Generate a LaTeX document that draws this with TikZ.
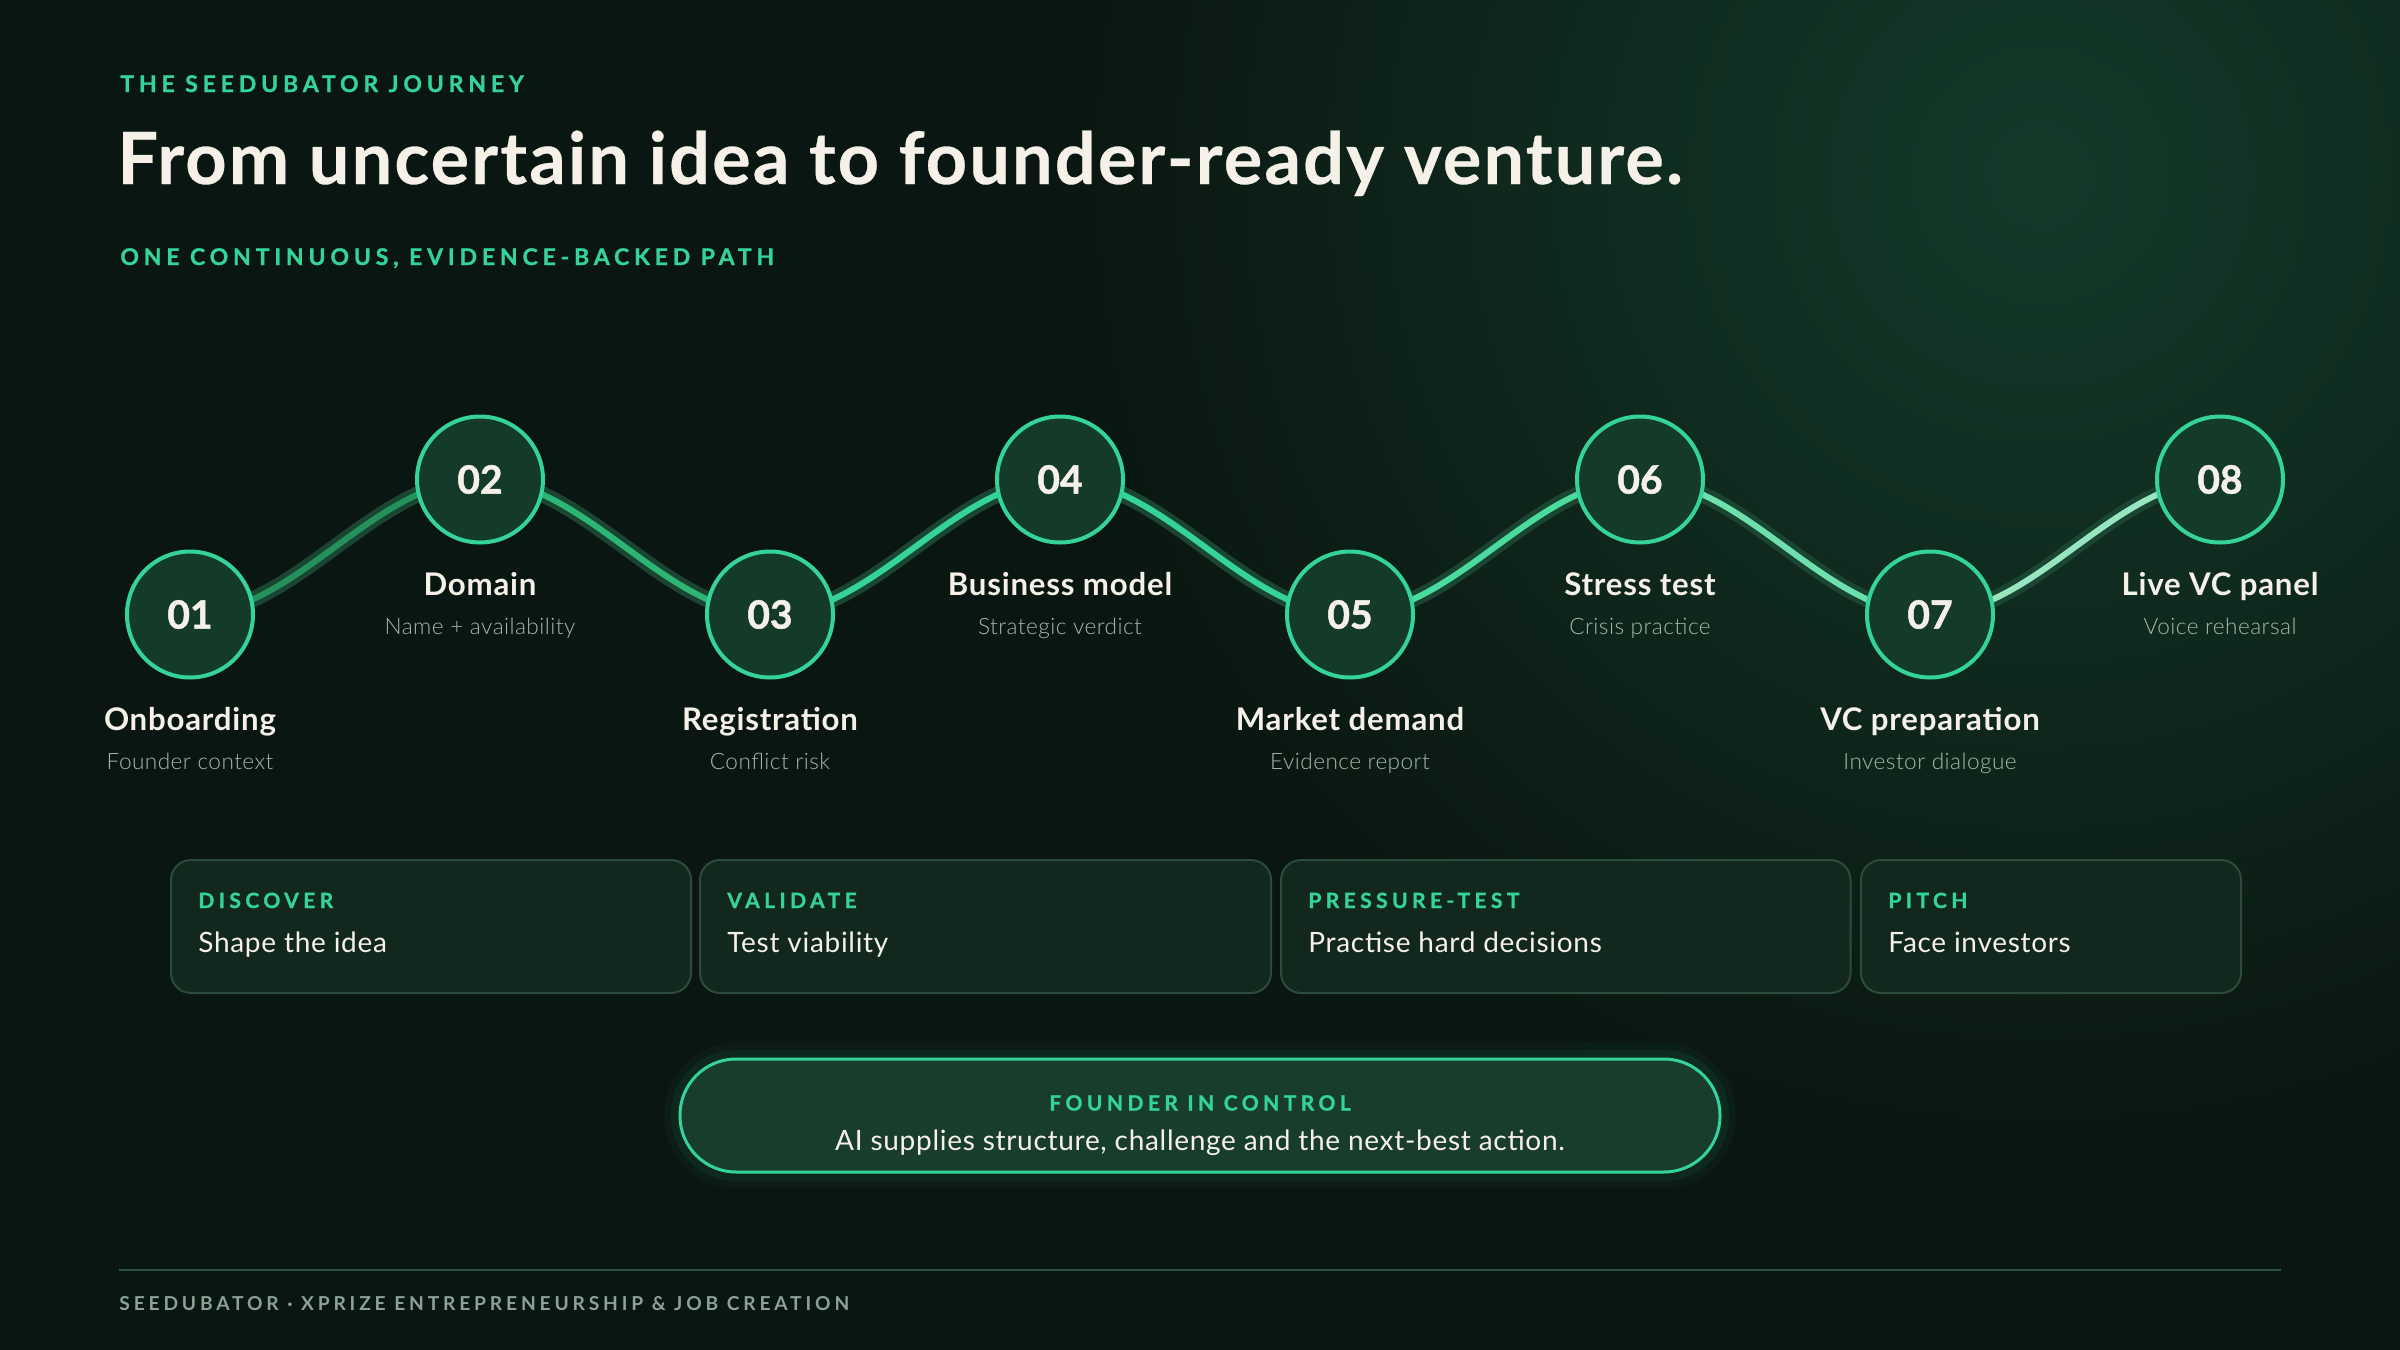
\documentclass[tikz,border=0pt]{standalone}
\usepackage{fontspec}
\usetikzlibrary{positioning,backgrounds}
\setmainfont{Lato}[LetterSpace=2.5]
\newfontfamily\heavybase{Lato}[FakeBold=1.3]
\newcommand\heavyfont{\heavybase\bfseries}
\newfontfamily\capsbase{Lato}[LetterSpace=21,FakeBold=1.1]
\newcommand\capsfont{\capsbase\bfseries}
\IfFontExistsTF{Lato Light}{\newfontfamily\lightfont{Lato Light}[LetterSpace=2]}{\newcommand\lightfont{}}
\newfontfamily\titlefont{Lato}[LetterSpace=3,FakeBold=0.4]
\newfontfamily\footfont{Lato}[LetterSpace=20]

\definecolor{bgdark}{HTML}{0A1611}
\definecolor{glow}{HTML}{143A2A}
\definecolor{mint}{HTML}{34D399}
\definecolor{cream}{HTML}{F5F1E8}
\definecolor{dotfill}{HTML}{143A29}
\definecolor{halo}{HTML}{1A4532}
\definecolor{muted}{HTML}{A3B8AC}
\definecolor{cardfill}{HTML}{12271E}
\definecolor{cardline}{HTML}{2C4B3C}
\definecolor{pillfill}{HTML}{183D2D}
\definecolor{footline}{HTML}{2E5242}
\definecolor{foottext}{HTML}{8AA396}
\definecolor{wa}{HTML}{24915D}
\definecolor{wb}{HTML}{2DB574}
\definecolor{wc}{HTML}{34D399}
\definecolor{wd}{HTML}{34D399}
\definecolor{we}{HTML}{4ADB9E}
\definecolor{wf}{HTML}{6EE0AE}
\definecolor{wg}{HTML}{97E6C0}

\tikzset{
  eyebrow/.style={text=mint, inner sep=0pt, anchor=base west, font=\capsfont\fontsize{11.5}{13}\selectfont},
  headline/.style={text=cream, inner sep=0pt, anchor=base west, font=\titlefont\bfseries\fontsize{36}{40}\selectfont},
  stepdot/.style={circle, draw=mint, line width=2pt, fill=dotfill, minimum size=63pt, inner sep=0pt,
    text=cream, font=\heavyfont\fontsize{19.5}{19.5}\selectfont},
  steptitle/.style={text=cream, inner sep=0pt, anchor=base, font=\bfseries\fontsize{15.6}{17}\selectfont},
  stepnote/.style={text=muted, inner sep=0pt, anchor=base, font=\lightfont\fontsize{11.3}{13}\selectfont},
  wave/.style={line width=3pt, line cap=round, preaction={draw=halo, line width=8pt}},
  card/.style={draw=cardline, line width=1pt, fill=cardfill, rounded corners=10pt, anchor=north west,
    minimum height=66.5pt, inner sep=0pt},
  cardtag/.style={text=mint, inner sep=0pt, anchor=base west, font=\capsfont\fontsize{10.5}{12}\selectfont},
  cardtext/.style={text=cream, inner sep=0pt, anchor=base west, font=\fontsize{14}{16}\selectfont},
  pill/.style={draw=mint, line width=1.5pt, fill=pillfill, rounded corners=28pt,
    minimum width=520pt, minimum height=56.5pt, inner sep=0pt,
    preaction={draw=mint, draw opacity=0.04, line width=16pt},
    preaction={draw=mint, draw opacity=0.07, line width=9pt}},
  foot/.style={text=foottext, inner sep=0pt, anchor=base west, font=\footfont\bfseries\fontsize{9.6}{11}\selectfont},
}

\begin{document}
\begin{tikzpicture}[x=0.5pt,y=-0.5pt]
  \useasboundingbox (0,0) rectangle (2400,1350);

  \begin{pgfonlayer}{background}
    \fill[bgdark] (0,0) rectangle (2400,1350);
    \begin{scope}
      \clip (0,0) rectangle (2400,1350);
      \shade[inner color=glow, outer color=bgdark] (2040,175) circle (1000);
    \end{scope}
  \end{pgfonlayer}

  % heading
  \node[eyebrow] (kicker) at (120,92) {THE SEEDUBATOR JOURNEY};
  \node[headline] (title) at (117,184) {From uncertain idea to founder-ready venture.};
  \node[eyebrow] (path) at (120,265) {ONE CONTINUOUS, EVIDENCE-BACKED PATH};

  % steps
  \foreach \i/\x/\y in {1/190/614.5,2/480/479.5,3/770/614.5,4/1060/479.5,
                        5/1350/614.5,6/1640/479.5,7/1930/614.5,8/2220/479.5}{
    \node[stepdot] (s\i) at (\x,\y) {0\i};
  }
  \foreach \i/\t/\d in {1/Onboarding/Founder context,2/Domain/Name + availability,
                        3/Registration/Conflict risk,4/Business model/Strategic verdict,
                        5/Market demand/Evidence report,6/Stress test/Crisis practice,
                        7/VC preparation/Investor dialogue,8/Live VC panel/Voice rehearsal}{
    \node[steptitle] (t\i) at ([yshift=-58pt]s\i.center) {\t};
    \node[stepnote] (n\i) at ([yshift=-77.5pt]s\i.center) {\d};
  }

  % path between the steps
  \begin{pgfonlayer}{background}
    \foreach \a/\b/\c in {1/2/wa,2/3/wb,3/4/wc,4/5/wd,5/6/we,6/7/wf,7/8/wg}{
      \draw[wave, draw=\c] (s\a.center) .. controls +(105,0) and +(-105,0) .. (s\b.center);
    }
  \end{pgfonlayer}

  % phases
  \foreach \i/\x/\w/\k/\t in {1/170/260pt/DISCOVER/Shape the idea,
                              2/699/285.5pt/VALIDATE/Test viability,
                              3/1280/284.75pt/PRESSURE-TEST/Practise hard decisions,
                              4/1860/190pt/PITCH/Face investors}{
    \node[card, minimum width=\w] (c\i) at (\x,859) {};
    \node[cardtag] (k\i) at ([xshift=14pt,yshift=-24.5pt]c\i.north west) {\k};
    \node[cardtext] (p\i) at ([xshift=14pt,yshift=-46.5pt]c\i.north west) {\t};
  }

  % founder note
  \node[pill] (ctrl) at (1200,1115.5) {};
  \node[eyebrow, anchor=base, font=\capsfont\fontsize{10.5}{12}\selectfont] (ctrltag) at (1200,1110.5) {FOUNDER IN CONTROL};
  \node[cardtext, anchor=base] (ctrltext) at (1200,1150) {AI supplies structure, challenge and the next-best action.};

  % footer
  \coordinate (fl) at (119,1270);
  \coordinate (fr) at (2281,1270);
  \draw[footline, line width=1pt] (fl) -- (fr);
  \node[foot] (brand) at (119,1310) {SEEDUBATOR · XPRIZE ENTREPRENEURSHIP \& JOB CREATION};
\end{tikzpicture}
\end{document}
